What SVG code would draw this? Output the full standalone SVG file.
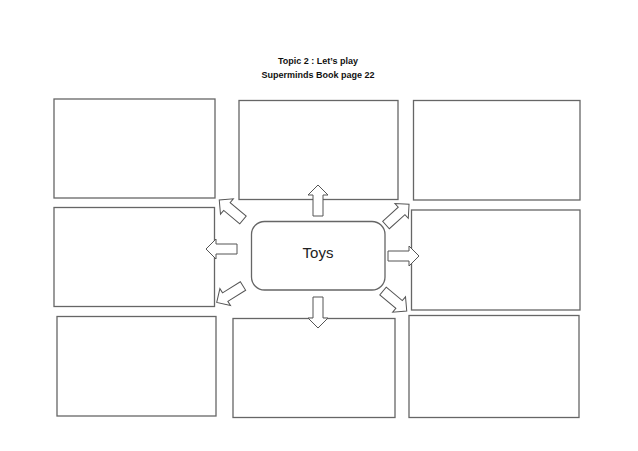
<svg xmlns="http://www.w3.org/2000/svg" width="638" height="451" viewBox="0 0 638 451">
<style>
.box{fill:#fff;stroke:#666;stroke-width:1.3}
.arr{fill:#fff;stroke:#555;stroke-width:1}
.title{font-family:"Liberation Sans",Arial,sans-serif;font-weight:bold;font-size:9px;fill:#111;text-anchor:middle}
.center{font-family:"Liberation Sans",Arial,sans-serif;font-size:15px;fill:#222;text-anchor:middle}
</style>
<defs>
<path id="blk" d="M0,-5 L21,-5 L21,-10 L31,0 L21,10 L21,5 L0,5 Z"/>
</defs>
<rect width="638" height="451" fill="#fff"/>
<g id="titles">
<text class="title" x="318" y="64">Topic 2 : Let’s play</text>
<text class="title" x="318" y="78">Superminds Book page 22</text>
</g>
<g id="box-tl"><rect class="box" x="54" y="99" width="161" height="99"/></g>
<g id="box-tm"><rect class="box" x="239" y="100.5" width="159" height="99"/></g>
<g id="box-tr"><rect class="box" x="413.5" y="100.5" width="166.5" height="99.5"/></g>
<g id="box-ml"><rect class="box" x="54" y="207.5" width="160.5" height="99"/></g>
<g id="box-mr"><rect class="box" x="411.5" y="210" width="168.5" height="100"/></g>
<g id="box-bl"><rect class="box" x="57" y="316.5" width="159" height="99.5"/></g>
<g id="box-bm"><rect class="box" x="233" y="318.5" width="162" height="99"/></g>
<g id="box-br"><rect class="box" x="409" y="315.5" width="170" height="102"/></g>
<g id="center-toys">
<rect class="box" x="251.5" y="221.5" width="133.5" height="68.5" rx="13" ry="13"/>
<text class="center" x="318" y="258">Toys</text>
</g>
<g id="connectors">
<use href="#blk" class="arr" transform="translate(318,216) rotate(-90)"/>
<use href="#blk" class="arr" transform="translate(318,297) rotate(90)"/>
<use href="#blk" class="arr" transform="translate(237,249) rotate(180)"/>
<use href="#blk" class="arr" transform="translate(388,256)"/>
<use href="#blk" class="arr" transform="translate(243,220) rotate(-140)"/>
<use href="#blk" class="arr" transform="translate(386,225) rotate(-42)"/>
<use href="#blk" class="arr" transform="translate(243,286) rotate(148)"/>
<use href="#blk" class="arr" transform="translate(383,291) rotate(40)"/>
</g>
</svg>
